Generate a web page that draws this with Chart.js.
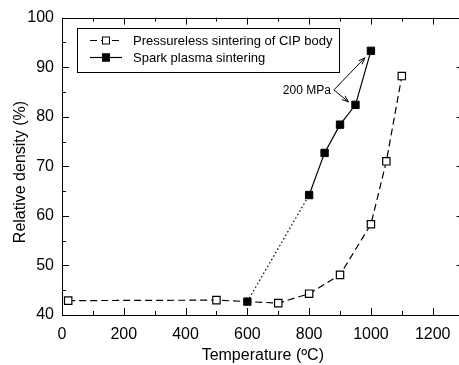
<!DOCTYPE html>
<html>
<head>
<meta charset="utf-8">
<script src="https://cdn.jsdelivr.net/npm/chart.js@4/dist/chart.umd.min.js"></script>
<style>
  html, body { margin: 0; padding: 0; background: #fff; overflow: hidden; }
  #wrap { width: 470px; height: 365px; }
</style>
</head>
<body>
<div id="wrap"><canvas id="myChart" width="470" height="365"></canvas></div>
<script>
// data
const cipTemp = [20, 500, 700, 800, 900, 1000, 1050, 1100];
const cipDensity = [42.9, 43.0, 42.4, 44.3, 48.1, 58.3, 71.0, 88.2];
const spsTemp = [600, 800, 850, 900, 950, 1000];
const spsDensity = [42.7, 64.2, 72.7, 78.4, 82.4, 93.3];

const xTicks = [0, 200, 400, 600, 800, 1000, 1200];
const yTicks = [40, 50, 60, 70, 80, 90, 100];
const seriesNames = ['Pressureless sintering of CIP body', 'Spark plasma sintering'];
const noteText = '200 MPa';
const xTitle = 'Temperature (\u00BAC)';
const yTitle = 'Relative density (%)';

const font = '"Liberation Sans", Arial, sans-serif';

const toPoints = (xs, ys) => xs.map((x, i) => ({ x: x, y: ys[i] }));

// frame with inward ticks on all four sides, titles, legend, arrow note
const extras = {
  id: 'extras',
  afterDraw(chart) {
    const ctx = chart.ctx;
    const a = chart.chartArea;
    const xs = chart.scales.x, ys = chart.scales.y;
    ctx.save();
    ctx.strokeStyle = '#000';
    ctx.lineWidth = 1;
    ctx.strokeRect(Math.round(a.left) + 0.5, Math.round(a.top) + 0.5, Math.round(a.right - a.left), Math.round(a.bottom - a.top));

    ctx.beginPath();
    for (let v = 0; v <= 1300; v += 100) {
      const px = Math.round(xs.getPixelForValue(v)) + 0.5;
      const len = v % 200 === 0 ? 7 : 4;
      ctx.moveTo(px, a.bottom); ctx.lineTo(px, a.bottom - len);
      ctx.moveTo(px, a.top); ctx.lineTo(px, a.top + len);
    }
    for (let v = 40; v <= 100; v += 5) {
      const py = Math.round(ys.getPixelForValue(v)) + 0.5;
      const len = v % 10 === 0 ? 7 : 4;
      ctx.moveTo(a.left, py); ctx.lineTo(a.left + len, py);
      ctx.moveTo(a.right, py); ctx.lineTo(a.right - len, py);
    }
    ctx.stroke();

    // axis titles
    ctx.fillStyle = '#000';
    ctx.font = '16px ' + font;
    ctx.textAlign = 'center';
    ctx.textBaseline = 'middle';
    ctx.fillText(xTitle, (a.left + a.right) / 2, 356);
    ctx.save();
    ctx.translate(21, 172);
    ctx.rotate(-Math.PI / 2);
    ctx.fillText(yTitle, 0, 0);
    ctx.restore();

    // legend box
    ctx.strokeRect(77.5, 28.5, 262, 44);
    ctx.font = '13px ' + font;
    ctx.textAlign = 'left';
    const rows = [40, 57];
    chart.data.datasets.forEach((ds, i) => {
      const y = rows[i] + 0.5;
      ctx.beginPath();
      ctx.setLineDash(ds.borderDash || []);
      ctx.lineWidth = ds.borderWidth;
      ctx.moveTo(90, y); ctx.lineTo(122, y);
      ctx.stroke();
      ctx.setLineDash([]);
      ctx.lineWidth = 1;
      ctx.fillStyle = ds.pointBackgroundColor;
      ctx.fillRect(102, y - 4, 8, 8);
      ctx.strokeRect(102.5, y - 3.5, 7, 7);
      ctx.fillStyle = '#000';
      ctx.fillText(ds.label, 133, rows[i] + 1);
    });

    // "200 MPa" note with arrows to the two SPS points
    const ox = xs.getPixelForValue(880), oy = ys.getPixelForValue(85.4);
    ctx.font = '12px ' + font;
    ctx.textAlign = 'right';
    ctx.fillText(noteText, ox - 3, oy + 1);
    const tips = [
      [xs.getPixelForValue(1000) - 6, ys.getPixelForValue(93.3) + 7],
      [xs.getPixelForValue(950) - 7, ys.getPixelForValue(82.4) - 3]
    ];
    tips.forEach(t => {
      ctx.beginPath();
      ctx.moveTo(ox, oy); ctx.lineTo(t[0], t[1]);
      ctx.stroke();
      const ang = Math.atan2(t[1] - oy, t[0] - ox);
      ctx.beginPath();
      ctx.moveTo(t[0], t[1]);
      ctx.lineTo(t[0] - 7 * Math.cos(ang - 0.35), t[1] - 7 * Math.sin(ang - 0.35));
      ctx.moveTo(t[0], t[1]);
      ctx.lineTo(t[0] - 7 * Math.cos(ang + 0.35), t[1] - 7 * Math.sin(ang + 0.35));
      ctx.stroke();
    });
    ctx.restore();
  }
};

const chart1 = new Chart('myChart', {
  type: 'line',
  data: {
    datasets: [{
      label: seriesNames[0],
      data: toPoints(cipTemp, cipDensity),
      borderColor: '#000',
      borderWidth: 1.2,
      borderDash: [7, 4],
      pointStyle: 'rect',
      pointRadius: 5.2,
      pointBorderWidth: 1.2,
      pointBorderColor: '#000',
      pointBackgroundColor: '#fff',
      tension: 0
    }, {
      label: seriesNames[1],
      data: toPoints(spsTemp, spsDensity),
      borderColor: '#000',
      borderWidth: 1.2,
      pointStyle: 'rect',
      pointRadius: 5.2,
      pointBorderWidth: 1,
      pointBorderColor: '#000',
      pointBackgroundColor: '#000',
      tension: 0,
      segment: {
        borderDash: ctx => ctx.p0DataIndex === 0 ? [1.5, 2.5] : undefined
      }
    }]
  },
  options: {
    responsive: false,
    animation: false,
    devicePixelRatio: 1,
    layout: { padding: { left: 0, right: 5, top: 16, bottom: 0 } },
    plugins: { legend: { display: false }, tooltip: { enabled: false } },
    scales: {
      x: {
        type: 'linear',
        min: 0,
        max: 1300,
        grid: { display: false, drawTicks: false },
        border: { display: false },
        afterBuildTicks: s => { s.ticks = xTicks.map(v => ({ value: v })); },
        afterFit: s => { s.height = 50; },
        ticks: { color: '#000', padding: 10, maxRotation: 0, callback: v => String(v), font: { family: font, size: 16 } }
      },
      y: {
        min: 40,
        max: 100,
        grid: { display: false, drawTicks: false },
        border: { display: false },
        afterBuildTicks: s => { s.ticks = yTicks.map(v => ({ value: v })); },
        afterFit: s => { s.width = 62; },
        ticks: { color: '#000', padding: 8, callback: v => String(v), font: { family: font, size: 16 } }
      }
    }
  },
  plugins: [extras]
});
</script>
</body>
</html>
